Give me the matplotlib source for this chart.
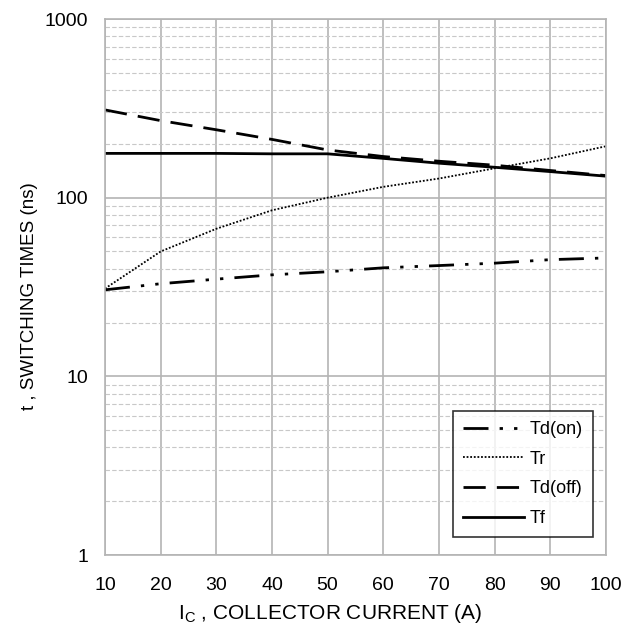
import numpy as np
import matplotlib.pyplot as plt
from matplotlib.ticker import FixedLocator, NullFormatter

plt.rcParams['font.family'] = ['Liberation Sans', 'DejaVu Sans']

# Collector current (A)
ic = [10, 20, 30, 40, 50, 60, 70, 80, 90, 100]

# Switching times (ns)
td_on = [30.5, 33, 35, 37, 38.5, 40.5, 41.7, 43, 45, 46]
tr = [31, 50, 67, 85, 100, 115, 128, 146, 166, 194]
td_off = [310, 270, 240, 212, 185, 170, 160, 152, 142, 133]
tf = [177, 177, 177, 176, 176, 166, 156, 148, 140, 132]

fig = plt.figure(figsize=(6.34, 6.28), dpi=100)
ax = fig.add_axes([0.1656, 0.1162, 0.790, 0.8535])

ax.plot(ic, td_on, color='black', lw=2.0, dashes=(9, 4, 1.2, 4, 1.2, 4), label='Td(on)')
ax.plot(ic, tr, color='black', lw=1.3, dashes=(1, 1), label='Tr')
ax.plot(ic, td_off, color='black', lw=2.0, dashes=(8, 4), label='Td(off)')
ax.plot(ic, tf, color='black', lw=2.0, label='Tf')

ax.set_yscale('log')
ax.set_xlim(10, 100)
ax.set_ylim(1, 1000)
ax.set_xticks(np.arange(10, 101, 10))
ax.set_yticks([1, 10, 100, 1000])
ax.set_yticklabels(['1', '10', '100', '1000'])
minors = [m * 10 ** d for d in range(0, 3) for m in range(2, 10)]
ax.yaxis.set_minor_locator(FixedLocator(minors))
ax.yaxis.set_minor_formatter(NullFormatter())

ax.grid(True, which='major', color='#b4b4b4', lw=1.2, ls='-')
ax.grid(True, which='minor', axis='y', color='#c8c8c8', lw=0.8, ls=(0, (4, 2)))
ax.set_axisbelow(True)
for s in ax.spines.values():
    s.set_color('#b4b4b4')
    s.set_linewidth(1.2)
ax.tick_params(which='both', length=0, labelsize=14)
ax.tick_params(axis='x', pad=16)
ax.tick_params(axis='y', pad=12)

ax.set_xlabel('I$_\\mathregular{C}$ , COLLECTOR CURRENT (A)', fontsize=15)
ax.set_ylabel('t , SWITCHING TIMES (ns)', fontsize=13.5)
ax.xaxis.set_label_coords(0.449, -0.088)
ax.yaxis.set_label_coords(-0.134, 0.483)

leg = ax.legend(loc='lower right', bbox_to_anchor=(0.974, 0.034), borderaxespad=0,
                fontsize=13, frameon=True, fancybox=False, edgecolor='black',
                handlelength=3.4, labelspacing=0.7, handletextpad=0.3, borderpad=0.55)
leg.get_frame().set_linewidth(1.2)

fig.savefig('out.png', dpi=100, facecolor='white')
